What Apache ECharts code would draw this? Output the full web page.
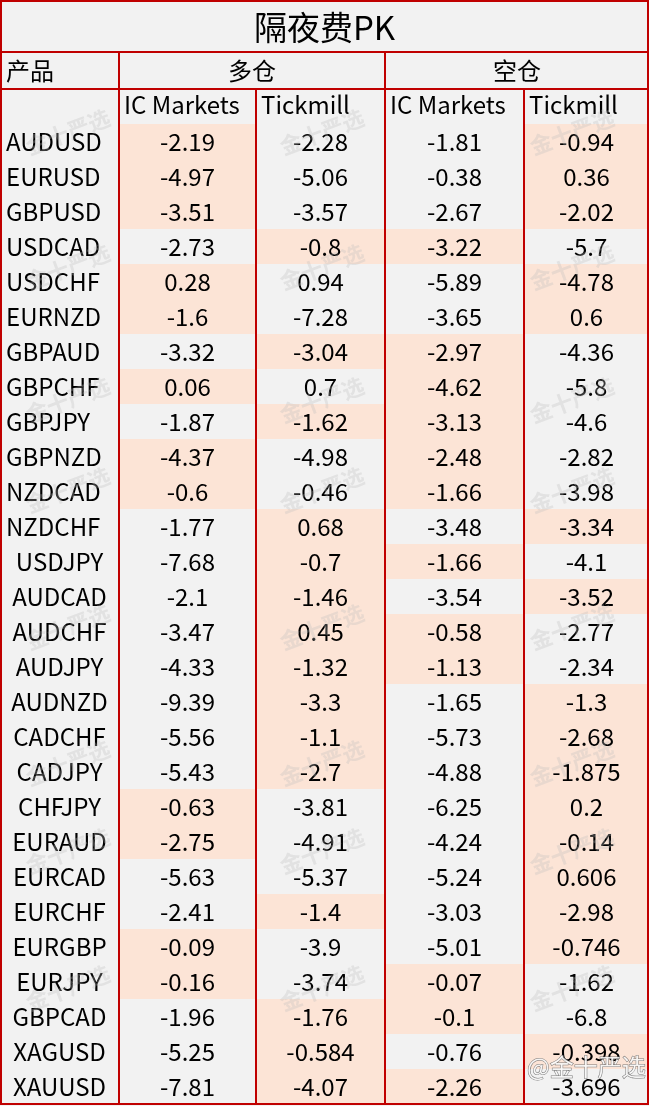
<!DOCTYPE html>
<html><head><meta charset="utf-8">
<script src="https://cdn.jsdelivr.net/npm/echarts@6/dist/echarts.min.js"></script>
<style>html,body{margin:0;padding:0;background:#f2f2f2}#c{width:649px;height:1106px}</style>
</head><body><div id="c"></div>
<script>
// ---- data ----
const titleText = '隔夜费PK';
const groupLabels = ['产品', '多仓', '空仓'];
const brokers = ['IC Markets', 'Tickmill'];
const products = ['AUDUSD','EURUSD','GBPUSD','USDCAD','USDCHF','EURNZD','GBPAUD','GBPCHF','GBPJPY','GBPNZD','NZDCAD','NZDCHF','USDJPY','AUDCAD','AUDCHF','AUDJPY','AUDNZD','CADCHF','CADJPY','CHFJPY','EURAUD','EURCAD','EURCHF','EURGBP','EURJPY','GBPCAD','XAGUSD','XAUUSD'];
const longIC  = [-2.19,-4.97,-3.51,-2.73,0.28,-1.6,-3.32,0.06,-1.87,-4.37,-0.6,-1.77,-7.68,-2.1,-3.47,-4.33,-9.39,-5.56,-5.43,-0.63,-2.75,-5.63,-2.41,-0.09,-0.16,-1.96,-5.25,-7.81];
const longTM  = [-2.28,-5.06,-3.57,-0.8,0.94,-7.28,-3.04,0.7,-1.62,-4.98,-0.46,0.68,-0.7,-1.46,0.45,-1.32,-3.3,-1.1,-2.7,-3.81,-4.91,-5.37,-1.4,-3.9,-3.74,-1.76,-0.584,-4.07];
const shortIC = [-1.81,-0.38,-2.67,-3.22,-5.89,-3.65,-2.97,-4.62,-3.13,-2.48,-1.66,-3.48,-1.66,-3.54,-0.58,-1.13,-1.65,-5.73,-4.88,-6.25,-4.24,-5.24,-3.03,-5.01,-0.07,-0.1,-0.76,-2.26];
const shortTM = [-0.94,0.36,-2.02,-5.7,-4.78,0.6,-4.36,-5.8,-4.6,-2.82,-3.98,-3.34,-4.1,-3.52,-2.77,-2.34,-1.3,-2.68,-1.875,0.2,-0.14,0.606,-2.98,-0.746,-1.62,-6.8,-0.398,-3.696];
// highlighted (favoured) broker per row: 'IC', 'TM' or '' (none)
const longBetter  = ['IC','IC','IC','TM','IC','IC','TM','IC','TM','IC','IC','TM','TM','TM','TM','TM','TM','TM','TM','IC','IC','','TM','IC','IC','TM','TM','TM'];
const shortBetter = ['TM','TM','TM','IC','TM','TM','IC','IC','IC','IC','IC','TM','IC','TM','IC','IC','TM','TM','TM','TM','TM','TM','TM','TM','IC','IC','TM','IC'];
const watermark = '金十严选';
const signature = '@金十严选';

// ---- layout / style ----
const FONT = '"Noto Sans CJK SC", "Noto Sans", sans-serif';
const RED = '#c00000', PEACH = '#fce4d6', GRAY = '#f2f2f2';
const VAL_FS = 24;
const cols = [
  {left: 0, width: 119},
  {left: 119, width: 137},
  {left: 256, width: 129},
  {left: 385, width: 139},
  {left: 524, width: 125}
];
const TOP = 124, H = 980;

const valueCols = [
  {vals: longIC, better: longBetter, key: 'IC'},
  {vals: longTM, better: longBetter, key: 'TM'},
  {vals: shortIC, better: shortBetter, key: 'IC'},
  {vals: shortTM, better: shortBetter, key: 'TM'}
];

const chart = echarts.init(document.getElementById('c'));

const grid = cols.map(c => ({left: c.left, top: TOP, width: c.width, height: H}));
const xAxis = cols.map((c, i) => ({
  gridIndex: i, type: 'category', position: 'top',
  data: i === 0 ? [''] : [brokers[(i - 1) % 2]],
  axisLine: {show: false}, axisTick: {show: false}, splitLine: {show: false},
  axisLabel: {
    show: i > 0, margin: 7, interval: 0,
    formatter: v => '{h|' + v + '}',
    rich: {h: {width: c.width - 10, align: 'left', fontSize: VAL_FS, fontFamily: FONT, color: '#000', lineHeight: 24}}
  }
}));
const yAxis = cols.map((c, i) => ({gridIndex: i, type: 'category', inverse: true, data: products, show: false}));

const series = [];
series.push({
  type: 'custom', xAxisIndex: 0, yAxisIndex: 0,
  data: products.map((p, i) => [0, i]),
  renderItem: (params, api) => {
    const i = api.value(1);
    const p = api.coord([0, i]);
    const s = api.size([1, 1]);
    const leftAligned = i < 12;
    return {
      type: 'text',
      style: {
        text: products[i], x: leftAligned ? p[0] - s[0] / 2 + 6 : p[0], y: p[1],
        align: leftAligned ? 'left' : 'center', verticalAlign: 'middle',
        font: VAL_FS + 'px ' + FONT, fill: '#000'
      }
    };
  }
});
valueCols.forEach((vc, k) => {
  series.push({
    type: 'custom', xAxisIndex: k + 1, yAxisIndex: k + 1,
    data: vc.vals.map((v, i) => [0, i, v, vc.better[i] === vc.key ? 1 : 0]),
    renderItem: (params, api) => {
      const i = api.value(1);
      const p = api.coord([0, i]);
      const s = api.size([1, 1]);
      return {
        type: 'rect',
        shape: {x: p[0] - s[0] / 2, y: p[1] - s[1] / 2, width: s[0], height: s[1]},
        style: {fill: api.value(3) ? PEACH : GRAY},
        textContent: {style: {text: String(vc.vals[params.dataIndex]), font: VAL_FS + 'px ' + FONT, fill: '#000'}},
        textConfig: {position: 'inside'}
      };
    }
  });
});

// watermark positions (centres)
const wmY = [132, 267, 400, 490, 627, 763, 851, 988];
const wmX = [68, 322, 572];
const graphics = [];
wmY.forEach(y => wmX.forEach(x => {
  graphics.push({type: 'text', x: x, y: y, rotation: 0.36, z: 50, silent: true,
    style: {text: watermark, align: 'center', verticalAlign: 'middle', font: 'bold 22px ' + FONT,
      fill: 'rgba(190,190,190,0.30)'}});
}));
// title and group headers
graphics.push({type: 'text', x: 324.5, y: 27, z: 60, style: {text: titleText, align: 'center', verticalAlign: 'middle', font: '33px ' + FONT, fill: '#000'}});
graphics.push({type: 'text', x: 6, y: 71, z: 60, style: {text: groupLabels[0], align: 'left', verticalAlign: 'middle', font: VAL_FS + 'px ' + FONT, fill: '#000'}});
graphics.push({type: 'text', x: 252, y: 71, z: 60, style: {text: groupLabels[1], align: 'center', verticalAlign: 'middle', font: VAL_FS + 'px ' + FONT, fill: '#000'}});
graphics.push({type: 'text', x: 517, y: 71, z: 60, style: {text: groupLabels[2], align: 'center', verticalAlign: 'middle', font: VAL_FS + 'px ' + FONT, fill: '#000'}});
// borders
const L = (x1, y1, x2, y2) => ({type: 'line', z: 70, silent: true, shape: {x1, y1, x2, y2}, style: {stroke: RED, lineWidth: 2}});
graphics.push({type: 'rect', z: 70, silent: true, shape: {x: 1, y: 1, width: 647, height: 1103}, style: {fill: null, stroke: RED, lineWidth: 2}});
graphics.push(L(0, 52, 649, 52));
graphics.push(L(0, 89, 649, 89));
graphics.push(L(119, 52, 119, 1105));
graphics.push(L(385, 52, 385, 1105));
graphics.push(L(256, 89, 256, 1105));
graphics.push(L(524, 89, 524, 1105));
// signature
graphics.push({type: 'text', x: 527, y: 1067, z: 80, silent: true, style: {text: signature, align: 'left', verticalAlign: 'middle', font: '24px ' + FONT, fill: 'rgba(255,255,255,0.85)', stroke: 'rgba(90,90,90,0.8)', lineWidth: 1}});

chart.setOption({
  backgroundColor: GRAY,
  animation: false,
  grid, xAxis, yAxis, series,
  graphic: graphics
});
</script></body></html>
